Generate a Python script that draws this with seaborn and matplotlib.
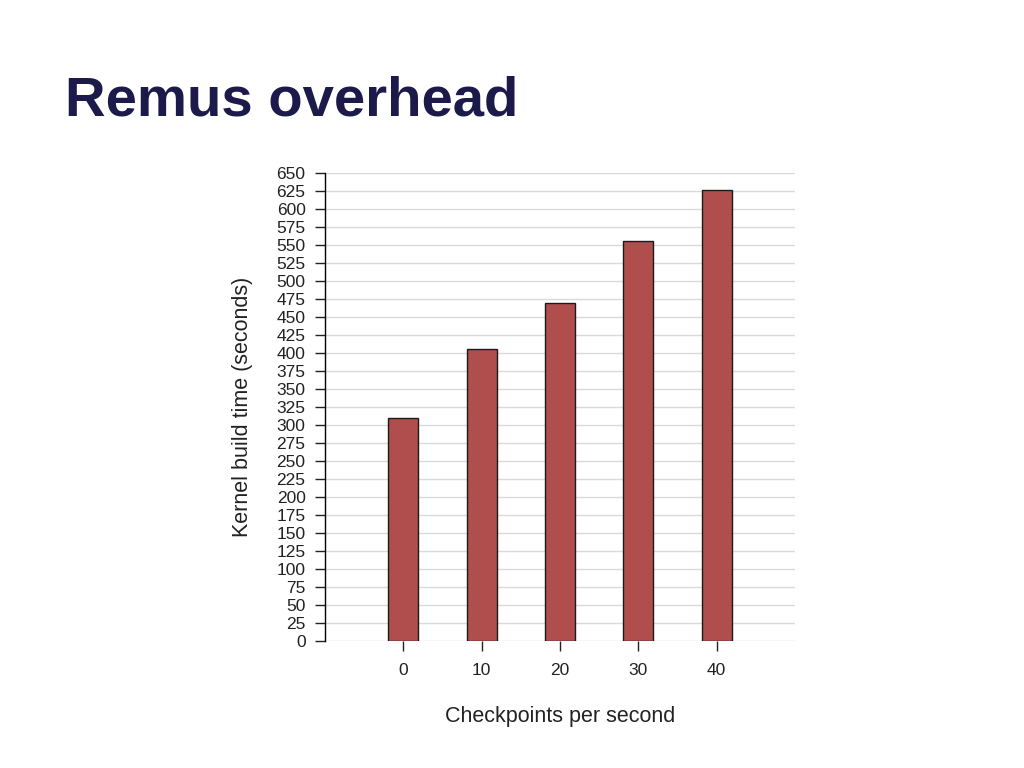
import numpy as np
import pandas as pd
import seaborn as sns
import matplotlib.pyplot as plt

# data
checkpoints = ['0', '10', '20', '30', '40']
build_time = [310, 406, 470, 556, 627]
y_ticks = list(range(0, 651, 25))

df = pd.DataFrame({'Checkpoints': checkpoints, 'BuildTime': build_time})

sns.set_style('white')
plt.rcParams['font.family'] = ['Liberation Sans', 'DejaVu Sans']

fig = plt.figure(figsize=(10.24, 7.68), dpi=100)
ax = fig.add_axes([0.3174, 0.1654, 0.459, 0.6094])

sns.barplot(data=df, x='Checkpoints', y='BuildTime', order=checkpoints,
            color='#B04E4E', saturation=1, edgecolor='#1a1a1a', linewidth=1,
            width=0.385, ax=ax, zorder=3)

ax.set_xlim(-1, 5)
ax.set_ylim(0, 650)
ax.set_yticks(y_ticks)
ax.yaxis.grid(True, color='#DADADA', linewidth=1, zorder=0)
ax.set_axisbelow(True)

for side in ['top', 'right', 'bottom']:
    ax.spines[side].set_visible(False)
ax.spines['left'].set_color('black')
ax.spines['left'].set_linewidth(1)

ax.tick_params(axis='y', length=7, width=1, pad=7, labelsize=12.5, colors='#222222', left=True)
ax.tick_params(axis='x', length=7, width=1, pad=9, labelsize=12.5, colors='#222222', bottom=True)

ax.set_xlabel('Checkpoints per second', fontsize=15.5, color='#222222', labelpad=20)
ax.set_ylabel('Kernel build time (seconds)', fontsize=15.5, color='#222222', labelpad=17)

fig.text(0.063, 0.849, 'Remus overhead', fontsize=40.5, fontweight='bold',
         color='#1C1A4A', ha='left', va='baseline')

fig.savefig('out.png', dpi=100)
